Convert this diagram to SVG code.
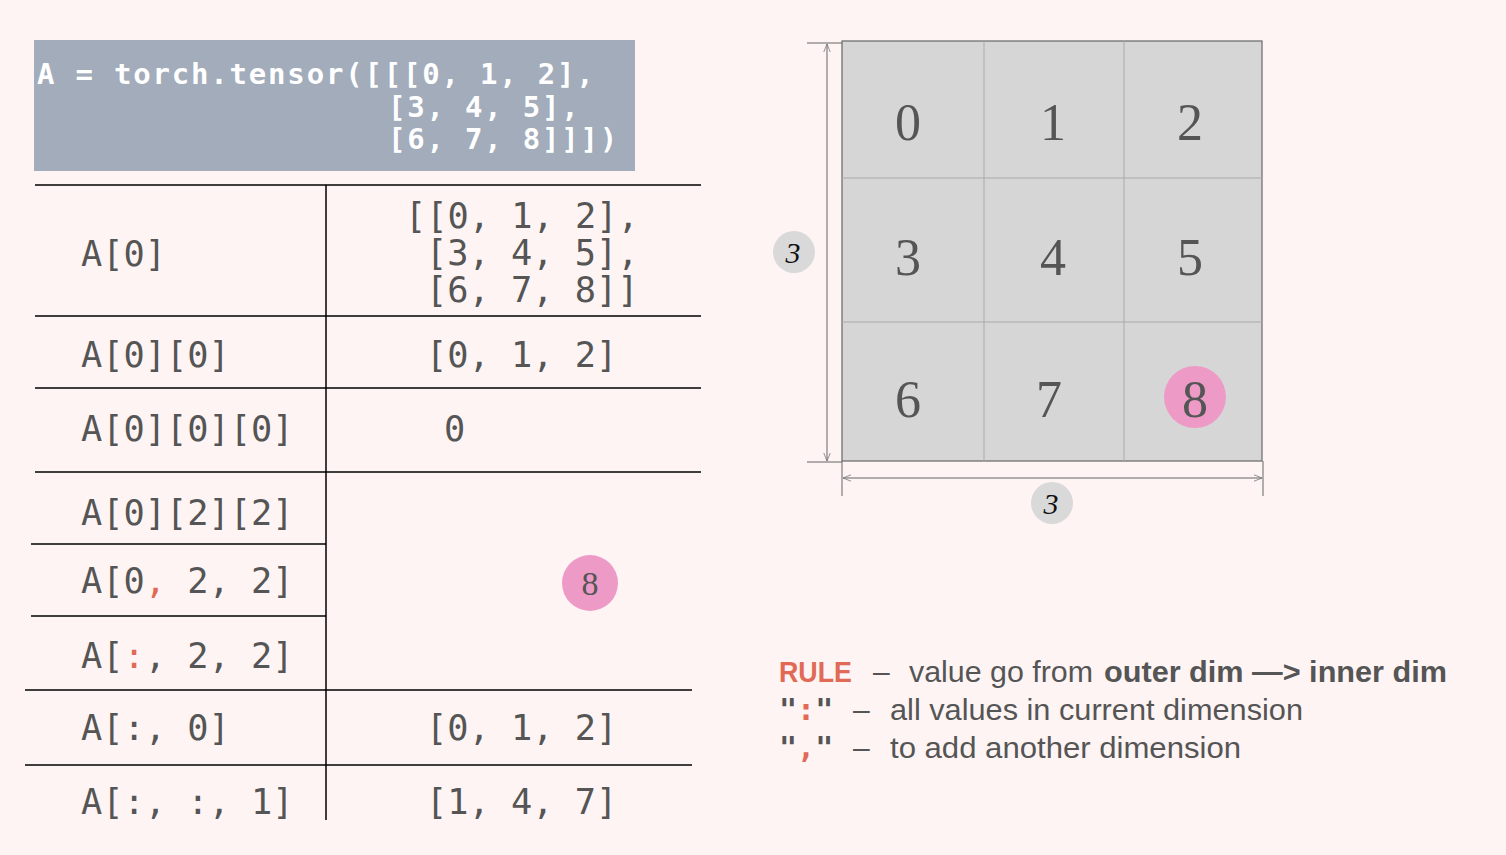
<svg xmlns="http://www.w3.org/2000/svg" width="1506" height="855" viewBox="0 0 1506 855">
<defs>
<style>
.mono{font-family:"DejaVu Sans Mono","Liberation Mono",monospace;font-size:35.3px;fill:#555555}
.code{font-family:"DejaVu Sans Mono","Liberation Mono",monospace;font-size:29px;letter-spacing:1.8px;font-weight:bold;fill:#ffffff}
.red{fill:#e06a55}
.tl{stroke:#000;stroke-width:1.5;fill:none}
.num{font-family:"Liberation Serif","Times New Roman",serif;font-size:52px;fill:#555555;text-anchor:middle}
.dim{stroke:#666;stroke-width:1;fill:none}
.lab{font-family:"Liberation Serif","Times New Roman",serif;font-style:italic;font-size:30px;fill:#111;text-anchor:middle}
.rule{font-family:"Liberation Sans",Arial,sans-serif;font-size:30px;fill:#555555}
.rulered{font-family:"Liberation Sans",Arial,sans-serif;font-size:30px;font-weight:bold;fill:#e06a55}
.qm{font-family:"DejaVu Sans Mono","Liberation Mono",monospace;font-size:30px;font-weight:bold;fill:#555555}
</style>
<marker id="arr" viewBox="0 0 10 10" refX="10" refY="5" markerWidth="8" markerHeight="8" orient="auto-start-reverse" markerUnits="userSpaceOnUse">
<path d="M0,1 L10,5 L0,9" fill="none" stroke="#777" stroke-width="1"/>
</marker>
</defs>
<rect width="1506" height="855" fill="#fef4f4"/>

<g id="code">
<rect x="34" y="40" width="601" height="131" fill="#a2acbb"/>
<text class="code" x="37" y="84">A = torch.tensor([[[0, 1, 2],</text>
<text class="code" x="388" y="117">[3, 4, 5],</text>
<text class="code" x="388" y="149">[6, 7, 8]]])</text>
</g>

<g id="table-lines">
<line class="tl" x1="35" y1="185" x2="701" y2="185"/>
<line class="tl" x1="35" y1="316" x2="701" y2="316"/>
<line class="tl" x1="35" y1="388" x2="701" y2="388"/>
<line class="tl" x1="35" y1="472" x2="701" y2="472"/>
<line class="tl" x1="31" y1="544" x2="326" y2="544"/>
<line class="tl" x1="31" y1="616" x2="326" y2="616"/>
<line class="tl" x1="25" y1="690" x2="692" y2="690"/>
<line class="tl" x1="25" y1="765" x2="692" y2="765"/>
<line class="tl" x1="326" y1="185" x2="326" y2="820"/>
</g>

<g id="row1">
<text class="mono" x="81" y="266">A[0]</text>
<text class="mono" x="405" y="228">[[0, 1, 2],</text>
<text class="mono" x="426" y="265">[3, 4, 5],</text>
<text class="mono" x="426" y="302">[6, 7, 8]]</text>
</g>
<g id="row2">
<text class="mono" x="81" y="367">A[0][0]</text>
<text class="mono" x="426" y="367">[0, 1, 2]</text>
</g>
<g id="row3">
<text class="mono" x="81" y="441">A[0][0][0]</text>
<text class="mono" x="444" y="441">0</text>
</g>
<g id="row4">
<text class="mono" x="81" y="525">A[0][2][2]</text>
<text class="mono" x="81" y="593">A[0<tspan class="red">,</tspan> 2, 2]</text>
<text class="mono" x="81" y="668">A[<tspan class="red">:</tspan>, 2, 2]</text>
<circle cx="590" cy="583" r="28" fill="#ee9ac6"/>
<text x="590" y="595" font-family="Liberation Serif, serif" font-size="34" fill="#555" text-anchor="middle">8</text>
</g>
<g id="row5">
<text class="mono" x="81" y="740">A[:, 0]</text>
<text class="mono" x="426" y="740">[0, 1, 2]</text>
</g>
<g id="row6">
<text class="mono" x="81" y="814">A[:, :, 1]</text>
<text class="mono" x="426" y="814">[1, 4, 7]</text>
</g>

<g id="grid">
<rect x="842" y="41" width="420" height="420" fill="#d6d6d6" stroke="#666" stroke-width="1.2"/>
<g stroke="#aaa" stroke-width="1">
<line x1="984" y1="41" x2="984" y2="461"/>
<line x1="1124" y1="41" x2="1124" y2="461"/>
<line x1="842" y1="178" x2="1262" y2="178"/>
<line x1="842" y1="322" x2="1262" y2="322"/>
</g>
<circle cx="1195" cy="397" r="31" fill="#ee9ac6"/>
<text class="num" x="908" y="140">0</text>
<text class="num" x="1053" y="140">1</text>
<text class="num" x="1190" y="140">2</text>
<text class="num" x="908" y="275">3</text>
<text class="num" x="1053" y="275">4</text>
<text class="num" x="1190" y="275">5</text>
<text class="num" x="908" y="417">6</text>
<text class="num" x="1049" y="417">7</text>
<text class="num" x="1195" y="417">8</text>
</g>

<g id="dimensions">
<line class="dim" x1="807" y1="43" x2="842" y2="43" stroke="#222"/>
<line class="dim" x1="807" y1="462" x2="842" y2="462" stroke="#222"/>
<line class="dim" x1="827" y1="44" x2="827" y2="461" marker-start="url(#arr)" marker-end="url(#arr)"/>
<line class="dim" x1="842" y1="461" x2="842" y2="496" stroke="#222"/>
<line class="dim" x1="1263" y1="461" x2="1263" y2="496" stroke="#222"/>
<line class="dim" x1="843" y1="478" x2="1262" y2="478" marker-start="url(#arr)" marker-end="url(#arr)"/>
</g>
<g id="label-v">
<circle cx="794" cy="252" r="21" fill="#d9d9d9"/>
<text class="lab" x="793" y="263">3</text>
</g>
<g id="label-h">
<circle cx="1052" cy="503" r="21" fill="#d9d9d9"/>
<text class="lab" x="1051" y="514">3</text>
</g>

<g id="rules">
<text class="rulered" x="779" y="682" textLength="73" lengthAdjust="spacingAndGlyphs">RULE</text>
<text class="rule" x="873" y="682">–</text>
<text class="rule" x="909" y="682" textLength="184" lengthAdjust="spacingAndGlyphs">value go from</text>
<text class="rule" x="1104" y="682" font-weight="bold" textLength="343" lengthAdjust="spacingAndGlyphs">outer dim —&gt; inner dim</text>
<text class="qm" x="779" y="720">"<tspan class="red">:</tspan>"</text>
<text class="rule" x="853" y="720">–</text>
<text class="rule" x="890" y="720" textLength="413" lengthAdjust="spacingAndGlyphs">all values in current dimension</text>
<text class="qm" x="779" y="758">"<tspan class="red">,</tspan>"</text>
<text class="rule" x="853" y="758">–</text>
<text class="rule" x="890" y="758" textLength="351" lengthAdjust="spacingAndGlyphs">to add another dimension</text>
</g>
</svg>
